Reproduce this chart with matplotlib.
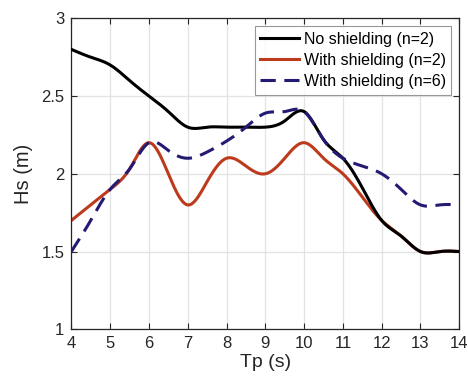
import numpy as np
import matplotlib
matplotlib.use("Agg")
import matplotlib.pyplot as plt

# Peak period (s) and significant wave height (m)
tp = [4, 4.5, 5, 5.5, 6, 6.5, 7, 7.5, 8, 8.5, 9, 9.5, 10, 10.5, 11, 11.5, 12, 12.5, 13, 13.5, 14]
hs_no_shield = [2.8, 2.75, 2.7, 2.6, 2.5, 2.4, 2.3, 2.3, 2.3, 2.3, 2.3, 2.34, 2.4, 2.22, 2.1, 1.91, 1.7, 1.6, 1.5, 1.5, 1.5]
hs_shield_n2 = [1.7, 1.8, 1.9, 2.03, 2.2, 2.0, 1.8, 1.95, 2.1, 2.05, 2.0, 2.1, 2.2, 2.1, 2.0, 1.85, 1.7, 1.6, 1.5, 1.5, 1.5]
hs_shield_n6 = [1.5, 1.7, 1.9, 2.03, 2.2, 2.15, 2.1, 2.14, 2.21, 2.3, 2.39, 2.4, 2.4, 2.22, 2.1, 2.05, 2.0, 1.9, 1.8, 1.8, 1.8]

labels = ["No shielding (n=2)", "With shielding (n=2)", "With shielding (n=6)"]


def spline(x, y, n=400):
    """natural cubic spline through (x, y), evaluated on a fine grid"""
    x = np.asarray(x, float); y = np.asarray(y, float)
    h = np.diff(x); m = len(x)
    A = np.zeros((m, m)); r = np.zeros(m)
    A[0, 0] = A[-1, -1] = 1
    for i in range(1, m - 1):
        A[i, i - 1] = h[i - 1]; A[i, i] = 2 * (h[i - 1] + h[i]); A[i, i + 1] = h[i]
        r[i] = 6 * ((y[i + 1] - y[i]) / h[i] - (y[i] - y[i - 1]) / h[i - 1])
    M = np.linalg.solve(A, r)
    xs = np.linspace(x[0], x[-1], n)
    k = np.clip(np.searchsorted(x, xs) - 1, 0, m - 2)
    t0 = x[k + 1] - xs; t1 = xs - x[k]; hk = h[k]
    ys = (M[k] * t0**3 + M[k + 1] * t1**3) / (6 * hk) \
        + (y[k] / hk - M[k] * hk / 6) * t0 + (y[k + 1] / hk - M[k + 1] * hk / 6) * t1
    return xs, ys


plt.rcParams["font.family"] = ["Liberation Sans", "DejaVu Sans"]

fig = plt.figure(figsize=(4.68, 3.86), dpi=100)
ax = fig.add_axes([0.1524, 0.1469, 0.829, 0.8057])

xs, ys = spline(tp, hs_no_shield)
ax.plot(xs, ys, color="black", lw=2.2, label=labels[0], zorder=3)
xs, ys = spline(tp, hs_shield_n2)
ax.plot(xs, ys, color="#BD3A1C", lw=2.2, label=labels[1], zorder=2)
xs, ys = spline(tp, hs_shield_n6)
ax.plot(xs, ys, color="#231A74", lw=2.2, ls=(0, (5, 2.8)), label=labels[2], zorder=4)

ax.set_xlim(4, 14); ax.set_ylim(1, 3)
ax.set_xticks(range(4, 15))
ax.set_yticks([1, 1.5, 2, 2.5, 3])
ax.set_yticklabels(["1", "1.5", "2", "2.5", "3"])
ax.grid(True, color="#E3E3E3", lw=0.9)
ax.set_axisbelow(True)
ax.tick_params(direction="in", length=4, width=0.8, top=True, right=True,
               labelsize=12, colors="#262626", pad=5)
for s in ax.spines.values():
    s.set_color("#262626"); s.set_linewidth(0.9)

ax.set_xlabel("Tp (s)", fontsize=14, color="#262626", labelpad=2)
ax.set_ylabel("Hs (m)", fontsize=14.5, color="#262626", labelpad=6)

leg = ax.legend(loc="upper right", fontsize=11.5, frameon=True, fancybox=False,
                borderaxespad=0.5, handlelength=2.4, handletextpad=0.3,
                labelspacing=0.38, borderpad=0.35)
leg.get_frame().set_edgecolor("#7F7F7F")
leg.get_frame().set_linewidth(0.8)
for t in leg.get_texts():
    t.set_color("black")

fig.savefig("out.png", dpi=100)
